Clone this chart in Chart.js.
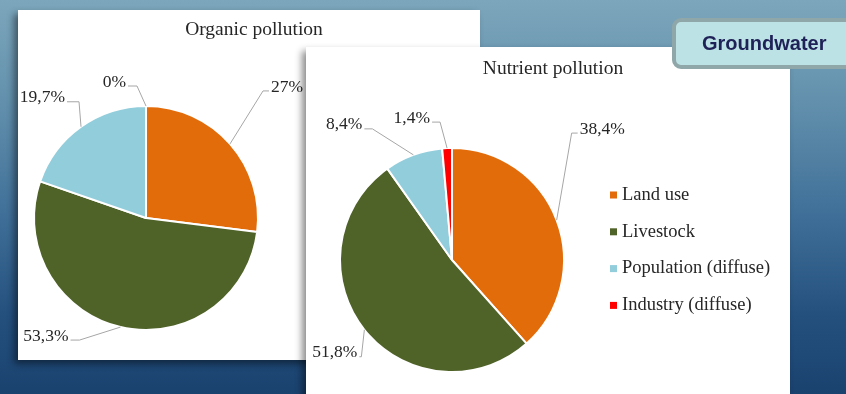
<!DOCTYPE html>
<html>
<head>
<meta charset="utf-8">
<script src="https://cdn.jsdelivr.net/npm/chart.js@4.4.1/dist/chart.umd.min.js"></script>
<style>
  html, body { margin:0; padding:0; }
  body {
    width:846px; height:394px; overflow:hidden; position:relative;
    background: linear-gradient(to bottom, #7ca6bb 0%, #6391ad 25%, #3f6f98 55%, #24507e 80%, #1a426f 100%);
    font-family: "Liberation Serif", serif;
  }
  .panel { position:absolute; background:#fff; box-shadow:-4px 4px 7px rgba(0,0,0,0.45); }
  #p1 { left:18px; top:10px; width:462px; height:350px; }
  #p2 { left:306px; top:47px; width:484px; height:360px; }
  #badge {
    position:absolute; left:672px; top:18px; width:180px; height:43px;
    background:#bde2e5; border:4px solid #8fa7a9; border-radius:9px;
    font-family:"Liberation Sans", Arial, sans-serif; font-weight:bold; font-size:20px;
    color:#1f2257; line-height:43px; box-sizing:content-box;
  }
  #badge span { position:absolute; left:26px; top:0; }
  canvas { display:block; }
</style>
</head>
<body>
<div class="panel" id="p1"><canvas id="c1" width="462" height="350"></canvas></div>
<div class="panel" id="p2"><canvas id="c2" width="484" height="360"></canvas></div>
<div id="badge"><span>Groundwater</span></div>
<script>
// ---- data ----
const categories = ['Land use', 'Livestock', 'Population (diffuse)', 'Industry (diffuse)'];
const organicValues = [27, 53.3, 19.7, 0];
const nutrientValues = [38.4, 51.8, 8.4, 1.4];
const organicTitle = 'Organic pollution';
const nutrientTitle = 'Nutrient pollution';

// ---- styles ----
const sliceColors = ['#e36c0a', '#4f6228', '#92cddc', '#ff0000'];
const serif = '"Liberation Serif", "Times New Roman", serif';

function fmtPct(v) { return String(v).replace('.', ',') + '%'; }

const annotatePlugin = {
  id: 'annotate',
  afterDatasetsDraw(chart, args, opts) {
    const ctx = chart.ctx;
    const meta = chart.getDatasetMeta(0);
    const values = chart.data.datasets[0].data;
    ctx.save();
    // leader lines + labels
    meta.data.forEach((arc, i) => {
      const p = arc.getProps(['x', 'y', 'startAngle', 'endAngle', 'outerRadius'], true);
      const mid = (p.startAngle + p.endAngle) / 2;
      const ax = p.x + Math.cos(mid) * p.outerRadius;
      const ay = p.y + Math.sin(mid) * p.outerRadius;
      const bx = ax + opts.elbows[i][0];
      const by = ay + opts.elbows[i][1];
      const side = opts.sides[i];
      const tx = bx + side * opts.tails[i];
      ctx.strokeStyle = '#a6a6a6';
      ctx.lineWidth = 1;
      ctx.beginPath();
      ctx.moveTo(ax, ay); ctx.lineTo(bx, by); ctx.lineTo(tx, by);
      ctx.stroke();
      ctx.fillStyle = '#262626';
      ctx.font = '17.5px ' + serif;
      ctx.textAlign = side > 0 ? 'left' : 'right';
      ctx.textBaseline = 'middle';
      ctx.fillText(fmtPct(values[i]), tx + side * 2, by - 4);
    });
    // title
    ctx.fillStyle = '#262626';
    ctx.font = '19.5px ' + serif;
    ctx.textAlign = 'center';
    ctx.textBaseline = 'middle';
    ctx.fillText(opts.title, opts.titleX, opts.titleY);
    // legend
    if (opts.legend) {
      const lg = opts.legend;
      ctx.font = '18.5px ' + serif;
      ctx.textAlign = 'left';
      chart.data.labels.forEach((lab, i) => {
        const yy = lg.y + i * lg.step;
        ctx.fillStyle = chart.data.datasets[0].backgroundColor[i];
        ctx.fillRect(lg.x, yy - 3.5, 7, 7);
        ctx.fillStyle = '#262626';
        ctx.fillText(lab, lg.x + 12, yy);
      });
    }
    ctx.restore();
  }
};

function makePie(id, values, padding, annot) {
  return new Chart(document.getElementById(id), {
    type: 'pie',
    data: {
      labels: categories,
      datasets: [{
        data: values,
        backgroundColor: sliceColors,
        borderColor: '#ffffff',
        borderWidth: 2
      }]
    },
    options: {
      responsive: false,
      animation: false,
      layout: { padding: padding },
      plugins: {
        legend: { display: false },
        tooltip: { enabled: false },
        annotate: annot
      }
    },
    plugins: [annotatePlugin]
  });
}

makePie('c1', organicValues,
  { left: 15, right: 221, top: 95, bottom: 29 },
  {
    title: organicTitle, titleX: 236, titleY: 20,
    elbows: [[33, -53], [-41, 13], [-2, -25], [-9, -20]],
    sides: [1, -1, -1, -1],
    tails: [6, 9, 12, 9]
  });

makePie('c2', nutrientValues,
  { left: 33, right: 225, top: 100, bottom: 34 },
  {
    title: nutrientTitle, titleX: 247, titleY: 22,
    elbows: [[15, -87], [-3, 27], [-41, -26], [-7, -26]],
    sides: [1, -1, -1, -1],
    tails: [6, 2, 8, 8],
    legend: { x: 304, y: 148, step: 36.8 }
  });
</script>
</body>
</html>
